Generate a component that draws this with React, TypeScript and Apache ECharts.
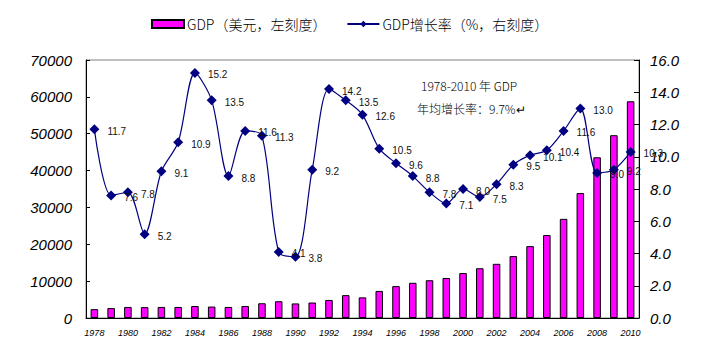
import React, { useEffect, useRef } from "react";
import * as echarts from "echarts";

const years = [
  "1978", "1979", "1980", "1981", "1982", "1983", "1984", "1985", "1986", "1987",
  "1988", "1989", "1990", "1991", "1992", "1993", "1994", "1995", "1996", "1997",
  "1998", "1999", "2000", "2001", "2002", "2003", "2004", "2005", "2006", "2007",
  "2008", "2009", "2010",
];

const gdpUsd = [
  2400, 2700, 3000, 2950, 3000, 3000, 3250, 3100, 3000, 3250,
  4000, 4550, 3950, 4200, 4900, 6200, 5600, 7350, 8650, 9550,
  10250, 10850, 12200, 13500, 14700, 16800, 19500, 22500, 26900, 33900,
  43600, 49600, 58800,
];

const growthRate = [
  11.7, 7.6, 7.8, 5.2, 9.1, 10.9, 15.2, 13.5, 8.8, 11.6,
  11.3, 4.1, 3.8, 9.2, 14.2, 13.5, 12.6, 10.5, 9.6, 8.8,
  7.8, 7.1, 8.0, 7.5, 8.3, 9.5, 10.1, 10.4, 11.6, 13.0,
  9.0, 9.2, 10.3,
];

const leftTicks = { min: 0, max: 70000, interval: 10000 };
const rightTicks = { min: 0, max: 16, interval: 2 };

const seriesNames = ["GDP（美元，左刻度）", "GDP增长率（%，右刻度）"];
const noteLines = ["1978-2010 年 GDP", "年均增长率：9.7%↵"];

export default function App() {
  const ref = useRef<HTMLDivElement>(null);
  useEffect(() => {
    if (!ref.current) return;
    const chart = echarts.init(ref.current, null, { renderer: "svg" });
    const axisLabelStyle = {
      color: "#000",
      fontStyle: "italic" as const,
      fontFamily: "Liberation Sans, Arial, sans-serif",
      fontSize: 15,
    };
    chart.setOption({
      animation: false,
      backgroundColor: "#fff",
      legend: {
        top: 12,
        left: 146,
        itemWidth: 32,
        itemHeight: 8,
        itemGap: 20,
        textStyle: {
          fontFamily: "Noto Sans CJK SC, sans-serif",
          fontSize: 14,
          fontWeight: 300,
          color: "#000",
          padding: [0, 0, 0, -2],
        },
        data: [
          { name: seriesNames[0], icon: "rect" },
          { name: seriesNames[1] },
        ],
      },
      grid: {
        left: 86,
        right: 64,
        top: 60,
        bottom: 45,
        show: true,
        borderColor: "#808080",
        borderWidth: 1,
      },
      xAxis: {
        type: "category",
        data: years,
        boundaryGap: true,
        axisLine: { lineStyle: { color: "#000", width: 1 } },
        axisTick: { inside: true, length: 3, interval: 0, lineStyle: { color: "#000" } },
        axisLabel: {
          interval: 1,
          color: "#000",
          fontStyle: "italic",
          fontFamily: "Liberation Sans, Arial, sans-serif",
          fontSize: 9,
          margin: 10,
        },
        splitLine: { show: false },
      },
      yAxis: [
        {
          type: "value",
          min: leftTicks.min,
          max: leftTicks.max,
          interval: leftTicks.interval,
          axisLine: { show: true, lineStyle: { color: "#000", width: 1 } },
          axisTick: { show: true, inside: true, length: 4, lineStyle: { color: "#000" } },
          axisLabel: { ...axisLabelStyle, margin: 14, formatter: (v: number) => String(v) },
          splitLine: { show: false },
        },
        {
          type: "value",
          min: rightTicks.min,
          max: rightTicks.max,
          interval: rightTicks.interval,
          position: "right",
          axisLine: { show: true, lineStyle: { color: "#000", width: 1 } },
          axisTick: { show: true, inside: true, length: 5, lineStyle: { color: "#000" } },
          axisLabel: {
            ...axisLabelStyle,
            margin: 11,
            formatter: (v: number) => v.toFixed(1),
          },
          splitLine: { show: false },
        },
      ],
      series: [
        {
          name: seriesNames[0],
          type: "bar",
          data: gdpUsd,
          barWidth: "45%",
          itemStyle: { color: "#ff00ff", borderColor: "#000", borderWidth: 1 },
        },
        {
          name: seriesNames[1],
          type: "line",
          yAxisIndex: 1,
          data: growthRate,
          smooth: 0.3,
          symbol: "diamond",
          symbolSize: 10,
          lineStyle: { color: "#000080", width: 1.2 },
          itemStyle: { color: "#000080" },
          label: {
            show: true,
            position: "right",
            distance: 8,
            offset: [0, 2],
            formatter: (p: any) => Number(p.value).toFixed(1),
            fontFamily: "Liberation Sans, Arial, sans-serif",
            fontSize: 10,
            color: "#111",
          },
          z: 3,
        },
      ],
      graphic: [
        {
          type: "text",
          left: 421,
          top: 79,
          style: {
            text: noteLines[0],
            fontFamily: "Noto Sans CJK SC, sans-serif",
            fontSize: 12,
            fontWeight: 300,
            fill: "#000",
          },
        },
        {
          type: "text",
          left: 417,
          top: 102,
          style: {
            text: noteLines[1],
            fontFamily: "Noto Sans CJK SC, sans-serif",
            fontSize: 12,
            fontWeight: 300,
            fill: "#000",
          },
        },
      ],
    });
    return () => chart.dispose();
  }, []);
  return <div ref={ref} style={{ width: 703, height: 363, position: "absolute", left: 0, top: 0 }} />;
}
